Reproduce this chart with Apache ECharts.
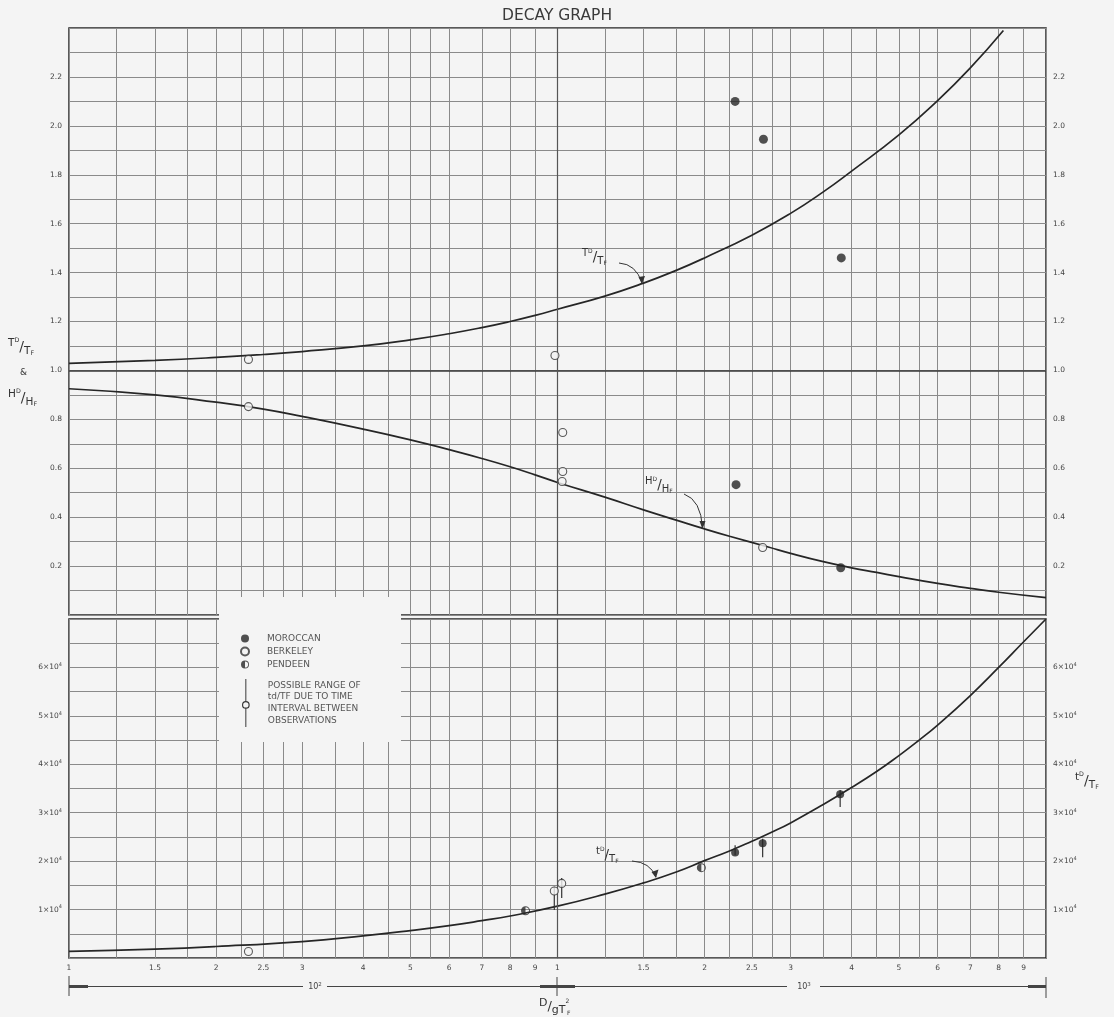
<!DOCTYPE html>
<html><head><meta charset="utf-8">
<script src="https://cdn.jsdelivr.net/npm/echarts@6/dist/echarts.min.js"></script>
<style>html,body{margin:0;padding:0;background:#f4f4f4}#c{width:1114px;height:1017px}</style>
</head><body><div id="c"></div>
<script>
// ---------- data ----------
const xTD = [100,150,200,250,300,400,500,600,700,800,900,1000,1250,1500,1750,2000,2500,3000,3500,4000,5000,6000,7000,8180];
const yTD = [1.029,1.041,1.053,1.065,1.077,1.10,1.125,1.15,1.175,1.20,1.225,1.25,1.304,1.357,1.409,1.46,1.553,1.642,1.73,1.815,1.963,2.103,2.237,2.39];

const xHD = [100,150,200,250,300,400,500,600,700,800,900,1000,1250,1500,1750,2000,2250,2700,3000,3500,4000,4500,5000,6000,7000,8000,10000];
const yHD = [0.925,0.900,0.870,0.842,0.812,0.760,0.716,0.676,0.640,0.606,0.573,0.542,0.482,0.430,0.388,0.352,0.322,0.278,0.252,0.218,0.193,0.174,0.157,0.129,0.109,0.093,0.071];

const xtd = [100,150,200,300,400,500,600,700,800,1000,1250,1500,1750,2000,2250,2500,2750,3000,3500,4000,4500,5000,5500,6000,7000,8000,9000,10000];
const ytd = [1350,1840,2380,3400,4570,5660,6680,7700,8670,10700,13180,15500,17750,20100,22100,24100,26000,27900,31700,35200,38500,41800,45000,48100,54200,60000,65300,70000];

const moroccanUpper = [[2310,2.10],[2640,1.945],[3810,1.46],[2320,0.533],[3800,0.193]];
const berkeleyUpper = [[233,1.045],[988,1.061],[233,0.852],[1025,0.746],[1025,0.587],[1022,0.546],[2630,0.276]];
const moroccanLower = [[2310,21800],[2630,23700],[3790,33800]];
const berkeleyLower = [[233,1350],[985,13850],[1020,15400]];
const pendeenLower = [[860,9750],[1970,18650]];
const rangeBars = [[985,9900,14700],[1020,12400,16500],[2310,21200,23300],[2630,20800,24600],[3790,31200,34700]];

const decades = [100,1000];
const gridMantissas = [1,1.25,1.5,1.75,2,2.25,2.5,2.75,3,3.5,4,4.5,5,5.5,6,7,8,9];
const labelMantissas = [1,1.5,2,2.5,3,4,5,6,7,8,9];

// ---------- styling ----------
const BG = '#f4f4f4', INK = '#262626', GRIDC = '#8a8a8a', LAB = '#444';
const FONT = 'DejaVu Sans';
const gridX = [];
decades.forEach(d => gridMantissas.forEach(m => gridX.push(Math.round(m*d))));
gridX.push(10000);
const labelX = [];
decades.forEach(d => labelMantissas.forEach(m => labelX.push(Math.round(m*d))));

const zip = (xs, ys) => xs.map((x,i) => [x, ys[i]]);
function mant(v){
  const d = Math.pow(10, Math.floor(Math.log10(v) + 1e-9));
  return String(Math.round(v/d*100)/100);
}

const xAxisCommon = {
  type: 'log', logBase: 10, min: 100, max: 10000,
  axisLine: {show: false},
  axisTick: {show: false, customValues: gridX},
  splitLine: {show: true, lineStyle: {color: GRIDC, width: 1}},
  minorSplitLine: {show: false}
};

const upperY = {
  type: 'value', gridIndex: 0, min: 0, max: 2.4, interval: 0.1,
  axisLine: {show: false}, axisTick: {show: false},
  splitLine: {show: true, lineStyle: {color: GRIDC, width: 1}},
  axisLabel: {
    fontSize: 7.5, color: LAB, fontFamily: FONT, margin: 7,
    formatter: v => { const k = Math.round(v*10); return (k % 2 === 0 && k > 0 && k < 24) ? (k/10).toFixed(1) : ''; }
  }
};
const lowerY = {
  type: 'value', gridIndex: 1, min: 0, max: 70000, interval: 5000,
  axisLine: {show: false}, axisTick: {show: false},
  splitLine: {show: true, lineStyle: {color: GRIDC, width: 1}},
  axisLabel: {
    fontSize: 7.5, color: LAB, fontFamily: FONT, margin: 7,
    formatter: v => { const k = Math.round(v/10000*2); return (k % 2 === 0 && k > 0 && k < 14) ? '{a|' + (k/2) + '×10}{s|4}' : ''; },
    rich: {a: {fontSize: 7.5, color: LAB, fontFamily: FONT}, s: {fontSize: 5, color: LAB, fontFamily: FONT, verticalAlign: 'top', padding: [0,0,5,0]}}
  }
};

function fracRich(size){
  return {
    b: {fontSize: size, fill: '#333', fontFamily: FONT, verticalAlign: 'top', lineHeight: size*1.8},
    s: {fontSize: size*0.6, fill: '#333', fontFamily: FONT, verticalAlign: 'top', lineHeight: size*1.8},
    sl: {fontSize: size*1.35, fill: '#333', fontFamily: FONT, verticalAlign: 'middle', lineHeight: size*1.8},
    b2: {fontSize: size, fill: '#333', fontFamily: FONT, verticalAlign: 'bottom', lineHeight: size*1.8},
    s2: {fontSize: size*0.6, fill: '#333', fontFamily: FONT, verticalAlign: 'bottom', lineHeight: size*1.8}
  };
}
function frac(a, b, c, d, x, y, size){
  return {
    type: 'text', x: x, y: y, z: 10,
    style: {text: `{b|${a}}{s|${b}}{sl|/}{b2|${c}}{s2|${d}}`, rich: fracRich(size), verticalAlign: 'middle', align: 'left'}
  };
}
function arrow(x1,y1,cx,cy,x2,y2,b1,b2){
  return [
    {type: 'bezierCurve', z: 10, shape: {x1:x1,y1:y1,cpx1:cx,cpy1:cy,x2:x2,y2:y2}, style: {stroke: '#333', lineWidth: 1, fill: null}},
    {type: 'polygon', z: 10, shape: {points: [[x2,y2+1], b1, b2]}, style: {fill: '#333'}}
  ];
}
function hline(x1,x2,y,w){ return {type:'line', z: 10, shape:{x1:x1,y1:y,x2:x2,y2:y}, style:{stroke:'#444', lineWidth:w||1}}; }
function vline(x,y1,y2){ return {type:'line', z: 10, shape:{x1:x,y1:y1,x2:x,y2:y2}, style:{stroke:'#444', lineWidth:1}}; }

const pendeenIcon = 'path://M0,-5A5,5 0 1,1 0,5A5,5 0 1,1 0,-5ZM0,-3.9A3.9,3.9 0 1,0 0,3.9A3.9,3.9 0 1,0 0,-3.9ZM0,-3.9A3.9,3.9 0 0,0 0,3.9Z';
const rangeIcon = 'path://M4.5,0L5.5,0L5.5,23L4.5,23ZM4.5,31L5.5,31L5.5,50L4.5,50ZM5,23A4,4 0 1,1 5,31A4,4 0 1,1 5,23ZM5,24.2A2.8,2.8 0 1,0 5,29.8A2.8,2.8 0 1,0 5,24.2Z';

const berkeleyStyle = {color: BG, borderColor: '#333', borderWidth: 1.1};

const supRich = {a:{fontSize:8, fill:'#444', fontFamily:FONT}, s:{fontSize:5.5, fill:'#444', fontFamily:FONT, verticalAlign:'top', padding:[0,0,4,0]}};

const graphics = [
  {type: 'rect', z: 3, shape: {x: 219, y: 597, width: 182, height: 145}, style: {fill: BG}},
  frac('T','D','T','F', 8, 347, 10.5),
  {type:'text', z:10, x: 20, y: 373, style:{text:'&', fontSize: 9, fontFamily: FONT, fill:'#333', verticalAlign:'middle'}},
  frac('H','D','H','F', 8, 398, 10.5),
  frac('t','D','T','F', 1075, 781, 10.5),
  frac('T','D','T','F', 582, 257, 10),
  ...arrow(619,263, 636,264, 642,283, [638.5,277],[645,276]),
  frac('H','D','H','F', 645, 485, 10),
  ...arrow(684,494, 701,500, 702.5,528, [699.5,521],[705.5,521]),
  frac('t','D','T','F', 596, 855, 10),
  ...arrow(632,861, 650,862, 656,877, [651.5,872],[658.5,869.5]),
  hline(69,303,986.5), hline(327,787,986.5), hline(820,1046,986.5),
  hline(69,88,986.5,3), hline(540,575,986.5,3), hline(1028,1046,986.5,3),
  vline(69,976,996), vline(557,977,996), vline(1046,977,998),
  {type:'text', z:10, x: 315, y: 987, style:{text:'{a|10}{s|2}', align:'center', verticalAlign:'middle', rich: supRich}},
  {type:'text', z:10, x: 804, y: 987, style:{text:'{a|10}{s|3}', align:'center', verticalAlign:'middle', rich: supRich}},
  {type:'text', z:10, x: 539, y: 1007, style:{text:'{d|D}{sl|/}{g|g}{t|T}{e|2}', verticalAlign:'middle', align:'left',
    rich:{
      d:{fontSize:11, fill:'#333', fontFamily:FONT, verticalAlign:'top', lineHeight:18},
      sl:{fontSize:13, fill:'#333', fontFamily:FONT, verticalAlign:'middle', lineHeight:18},
      g:{fontSize:11, fill:'#333', fontFamily:FONT, verticalAlign:'bottom', lineHeight:18},
      t:{fontSize:11, fill:'#333', fontFamily:FONT, verticalAlign:'bottom', lineHeight:18},
      e:{fontSize:6, fill:'#333', fontFamily:FONT, verticalAlign:'top', lineHeight:18}
    }}},
  {type:'text', z:10, x: 567, y: 1013, style:{text:'F', fontSize: 6, fontFamily: FONT, fill:'#333', verticalAlign:'middle'}}
];

const curveStyle = {color: INK, width: 1.7};

const option = {
  backgroundColor: BG,
  animation: false,
  title: {text: 'DECAY GRAPH', left: 'center', top: 3, textStyle: {fontSize: 15.5, fontWeight: 'normal', color: '#3a3a3a', fontFamily: FONT}},
  grid: [
    {left: 69, right: 68, top: 28, bottom: 402, show: true, borderColor: INK, borderWidth: 1.5, backgroundColor: 'transparent'},
    {left: 69, right: 68, top: 619, bottom: 59, show: true, borderColor: INK, borderWidth: 1.5, backgroundColor: 'transparent'}
  ],
  xAxis: [
    Object.assign({}, xAxisCommon, {gridIndex: 0, axisLabel: {show: false}}),
    Object.assign({}, xAxisCommon, {gridIndex: 1, axisLabel: {show: true, customValues: labelX, formatter: mant, fontSize: 7.5, color: LAB, fontFamily: FONT, margin: 6}})
  ],
  yAxis: [
    upperY,
    Object.assign({}, upperY, {position: 'right', splitLine: {show: false}}),
    lowerY,
    Object.assign({}, lowerY, {position: 'right', splitLine: {show: false}})
  ],
  legend: [
    {left: 240, top: 634, orient: 'vertical', itemWidth: 34, itemHeight: 8, itemGap: 3.5, padding: 0,
     textStyle: {fontSize: 9, color: '#555', fontFamily: FONT},
     data: [{name: 'MOROCCAN', icon: 'circle'}, {name: 'BERKELEY', icon: 'circle'}, {name: 'PENDEEN', icon: pendeenIcon}]},
    {left: 242, top: 679, orient: 'vertical', itemWidth: 34, itemHeight: 48, padding: 0,
     textStyle: {fontSize: 9, color: '#555', fontFamily: FONT, lineHeight: 11.8},
     formatter: () => 'POSSIBLE RANGE OF\ntd/TF DUE TO TIME\nINTERVAL BETWEEN\nOBSERVATIONS',
     data: [{name: 'RANGE', icon: rangeIcon}]}
  ],
  graphic: graphics,
  series: [
    {name: 'TD', type: 'line', xAxisIndex: 0, yAxisIndex: 0, data: zip(xTD, yTD), smooth: true, showSymbol: false,
     lineStyle: curveStyle, z: 3,
     markLine: {silent: true, symbol: 'none', label: {show: false}, lineStyle: {color: '#3a3a3a', width: 1.6, type: 'solid'}, data: [{yAxis: 1.0}]}},
    {name: 'HD', type: 'line', xAxisIndex: 0, yAxisIndex: 0, data: zip(xHD, yHD), smooth: true, showSymbol: false,
     lineStyle: curveStyle, z: 3,
     markLine: {silent: true, symbol: 'none', label: {show: false}, lineStyle: {color: '#555', width: 1.2, type: 'solid'}, data: [{xAxis: 1000}]}},
    {name: 'td', type: 'line', xAxisIndex: 1, yAxisIndex: 2, data: zip(xtd, ytd), smooth: true, showSymbol: false,
     lineStyle: curveStyle, z: 3,
     markLine: {silent: true, symbol: 'none', label: {show: false}, lineStyle: {color: '#555', width: 1.2, type: 'solid'}, data: [{xAxis: 1000}]}},
    {name: 'RANGE', type: 'custom', xAxisIndex: 1, yAxisIndex: 2, data: rangeBars, z: 4,
     itemStyle: {color: '#333'},
     encode: {x: 0, y: [1, 2]},
     renderItem: (params, api) => {
       const p1 = api.coord([api.value(0), api.value(1)]);
       const p2 = api.coord([api.value(0), api.value(2)]);
       return {type: 'line', shape: {x1: p1[0], y1: p1[1], x2: p2[0], y2: p2[1]}, style: {stroke: '#333', lineWidth: 1.2}};
     }},
    {name: 'MOROCCAN', type: 'scatter', xAxisIndex: 0, yAxisIndex: 0, data: moroccanUpper, symbol: 'circle', symbolSize: 9, itemStyle: {color: '#262626'}, z: 5},
    {name: 'BERKELEY', type: 'scatter', xAxisIndex: 0, yAxisIndex: 0, data: berkeleyUpper, symbol: 'circle', symbolSize: 8, itemStyle: berkeleyStyle, z: 5},
    {name: 'MOROCCAN', type: 'scatter', xAxisIndex: 1, yAxisIndex: 2, data: moroccanLower, symbol: 'circle', symbolSize: 8, itemStyle: {color: '#262626'}, z: 5},
    {name: 'BERKELEY', type: 'scatter', xAxisIndex: 1, yAxisIndex: 2, data: berkeleyLower, symbol: 'circle', symbolSize: 8, itemStyle: berkeleyStyle, z: 5},
    {name: 'PENDEEN', type: 'scatter', xAxisIndex: 1, yAxisIndex: 2, data: pendeenLower, symbol: pendeenIcon, symbolSize: 9, itemStyle: {color: '#262626'}, z: 5}
  ]
};

const chart = echarts.init(document.getElementById('c'), null, {renderer: 'canvas'});
chart.setOption(option);
</script>
</body></html>
